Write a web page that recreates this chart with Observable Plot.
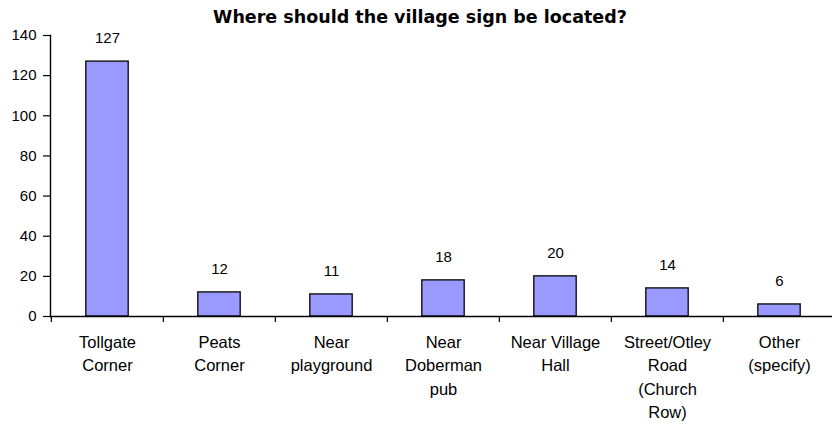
<!DOCTYPE html>
<html>
<head>
<meta charset="utf-8">
<script src="https://cdn.jsdelivr.net/npm/d3@7"></script>
<script src="https://cdn.jsdelivr.net/npm/@observablehq/plot@0.6"></script>
<style>
  body { margin: 0; background: #fff; }
  #wrap { position: relative; width: 832px; height: 427px; }
  #title { position: absolute; left: 0; top: 7px; width: 840px; text-align: center;
    font: bold 17.5px "DejaVu Sans", sans-serif; color: #000; }
</style>
</head>
<body>
<div id="wrap"><div id="title">Where should the village sign be located?</div></div>
<script>
const title = "Where should the village sign be located?";
const categories = [
  "Tollgate\nCorner",
  "Peats\nCorner",
  "Near\nplayground",
  "Near\nDoberman\npub",
  "Near Village\nHall",
  "Street/Otley\nRoad\n(Church\nRow)",
  "Other\n(specify)"
];
const values = [127, 12, 11, 18, 20, 14, 6];
const yTicks = [0, 20, 40, 60, 80, 100, 120, 140];

const data = categories.map((c, i) => ({cat: c, value: values[i]}));
const W = 832, H = 427, mL = 50, mR = -4;
const step = (W - mR - mL) / categories.length;

const chart = Plot.plot({
  width: W, height: H,
  marginLeft: mL, marginRight: mR, marginTop: 35, marginBottom: 111,
  style: {fontFamily: "'Liberation Sans', Arial, sans-serif", overflow: "visible", background: "transparent"},
  x: {type: "band", domain: categories, padding: 0},
  y: {domain: [0, 140]},
  marks: [
    Plot.barY(data, {x: "cat", y: "value", fill: "#9999ff", stroke: "#111", strokeWidth: 1.4,
      insetLeft: step * 0.31, insetRight: step * 0.31}),
    Plot.text(data, {x: "cat", y: "value", text: d => String(d.value), dy: -23, fontSize: 15, fill: "#000"}),
    Plot.frame({anchor: "left", stroke: "#000", strokeWidth: 1.4}),
    Plot.frame({anchor: "bottom", stroke: "#000", strokeWidth: 1.4}),
    Plot.axisY({ticks: yTicks, tickSize: 7, tickPadding: 7, fontSize: 15, label: null, stroke: "#000", strokeOpacity: 1, strokeWidth: 1.2, color: "#000"}),
    Plot.axisX({text: null, tickSize: 6, dx: -step / 2, label: null, stroke: "#000", strokeOpacity: 1, strokeWidth: 1.2}),
    Plot.axisX({tickSize: 0, tickPadding: 15, fontSize: 16.5, lineHeight: 1.41, label: null, color: "#000"})
  ]
});
document.getElementById("wrap").prepend(chart);
</script>
</body>
</html>
